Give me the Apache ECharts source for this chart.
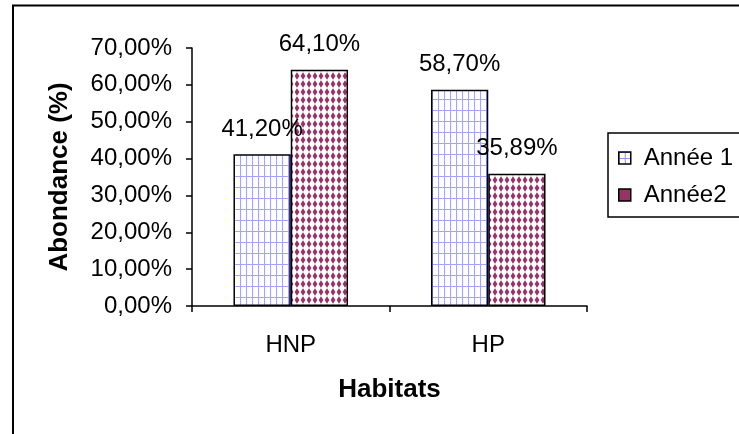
<!DOCTYPE html>
<html>
<head>
<meta charset="utf-8">
<script src="https://cdn.jsdelivr.net/npm/echarts@6/dist/echarts.min.js"></script>
<style>
html,body{margin:0;padding:0;background:#fff;}
#chart{width:739px;height:434px;}
</style>
</head>
<body>
<div id="chart"></div>
<script>
const categories = ['HNP', 'HP'];
const seriesNames = ['Année 1', 'Année2'];
const annee1 = [41.20, 58.70];
const annee2 = [64.10, 35.89];
const yTicks = [0, 10, 20, 30, 40, 50, 60, 70];

function fmt(v) { return v.toFixed(2).replace('.', ',') + '%'; }

function gridPattern() {
  const c = document.createElement('canvas');
  c.width = 6; c.height = 11;
  const g = c.getContext('2d');
  g.fillStyle = '#ffffff'; g.fillRect(0, 0, 6, 11);
  g.fillStyle = '#a4a4ff';
  g.fillRect(0, 0, 1, 11);
  g.fillRect(0, 0, 6, 1);
  return c;
}
function diamondPattern() {
  const c = document.createElement('canvas');
  c.width = 6; c.height = 8;
  const g = c.getContext('2d');
  g.fillStyle = '#ffffff'; g.fillRect(0, 0, 6, 8);
  g.fillStyle = '#993366';
  g.beginPath();
  g.moveTo(3, 0.3); g.lineTo(5.4, 4); g.lineTo(3, 7.7); g.lineTo(0.6, 4); g.closePath();
  g.fill();
  return c;
}
function legendGridIcon() {
  const c = document.createElement('canvas');
  c.width = 6; c.height = 6;
  const g = c.getContext('2d');
  g.fillStyle = '#ffffff'; g.fillRect(0, 0, 6, 6);
  g.fillStyle = '#8f8fff';
  g.fillRect(0, 0, 1, 6);
  g.fillRect(0, 0, 6, 1);
  return c;
}

const FONT = "'Liberation Sans', Arial, sans-serif";
const chart = echarts.init(document.getElementById('chart'), null, {renderer: 'canvas'});

const labelCfg = {
  show: true, position: 'top', distance: 13,
  fontSize: 24, lineHeight: 24, color: '#000', fontFamily: FONT,
  formatter: p => fmt(p.value)
};

chart.setOption({
  animation: false,
  backgroundColor: '#fff',
  graphic: [{
    type: 'polyline',
    shape: {points: [[13, 434], [13, 5.5], [739, 5.5]]},
    style: {stroke: '#000', lineWidth: 2, fill: null}
  }],
  grid: {left: 192, right: 152, top: 48, bottom: 128},
  legend: {
    data: [
      {name: seriesNames[0], itemStyle: {color: {image: legendGridIcon(), repeat: 'repeat'}, borderColor: '#000', borderWidth: 1.5}},
      {name: seriesNames[1], itemStyle: {color: '#993366', borderColor: '#000', borderWidth: 1.5}}
    ],
    orient: 'vertical',
    left: 608, top: 133,
    padding: [13, 8, 10, 10],
    itemWidth: 12, itemHeight: 12, itemGap: 13,
    borderColor: '#000', borderWidth: 1.5,
    icon: 'rect',
    textStyle: {fontSize: 24, lineHeight: 24, color: '#000', fontFamily: FONT, padding: [0, 0, 0, 8]}
  },
  xAxis: {
    type: 'category',
    data: categories,
    name: 'Habitats',
    nameLocation: 'middle',
    nameGap: 71,
    nameTextStyle: {fontSize: 26, fontWeight: 'bold', color: '#000', fontFamily: FONT, lineHeight: 26},
    axisLine: {lineStyle: {color: '#000', width: 1.5}},
    axisTick: {show: true, length: 6, lineStyle: {color: '#000', width: 1.5}, alignWithLabel: false},
    axisLabel: {fontSize: 24, lineHeight: 24, color: '#000', fontFamily: FONT, margin: 27}
  },
  yAxis: {
    type: 'value',
    min: yTicks[0], max: yTicks[yTicks.length - 1], interval: 10,
    name: 'Abondance (%)',
    nameLocation: 'middle',
    nameGap: 119,
    nameRotate: 90,
    nameTextStyle: {fontSize: 26, fontWeight: 'bold', color: '#000', fontFamily: FONT, lineHeight: 26},
    axisLine: {show: true, lineStyle: {color: '#000', width: 1.5}},
    axisTick: {show: true, length: 6, lineStyle: {color: '#000', width: 1.5}},
    splitLine: {show: false},
    axisLabel: {fontSize: 24, color: '#000', fontFamily: FONT, margin: 20, formatter: v => fmt(v)}
  },
  series: [{
    name: seriesNames[0],
    type: 'bar',
    data: annee1,
    barGap: '0%',
    barCategoryGap: '42%',
    itemStyle: {color: {image: gridPattern(), repeat: 'repeat'}, borderColor: '#000', borderWidth: 1.5},
    label: labelCfg
  }, {
    name: seriesNames[1],
    type: 'bar',
    data: annee2,
    barGap: '0%',
    barCategoryGap: '42%',
    itemStyle: {color: {image: diamondPattern(), repeat: 'repeat'}, borderColor: '#000', borderWidth: 1.5},
    label: labelCfg
  }]
});
</script>
</body>
</html>
